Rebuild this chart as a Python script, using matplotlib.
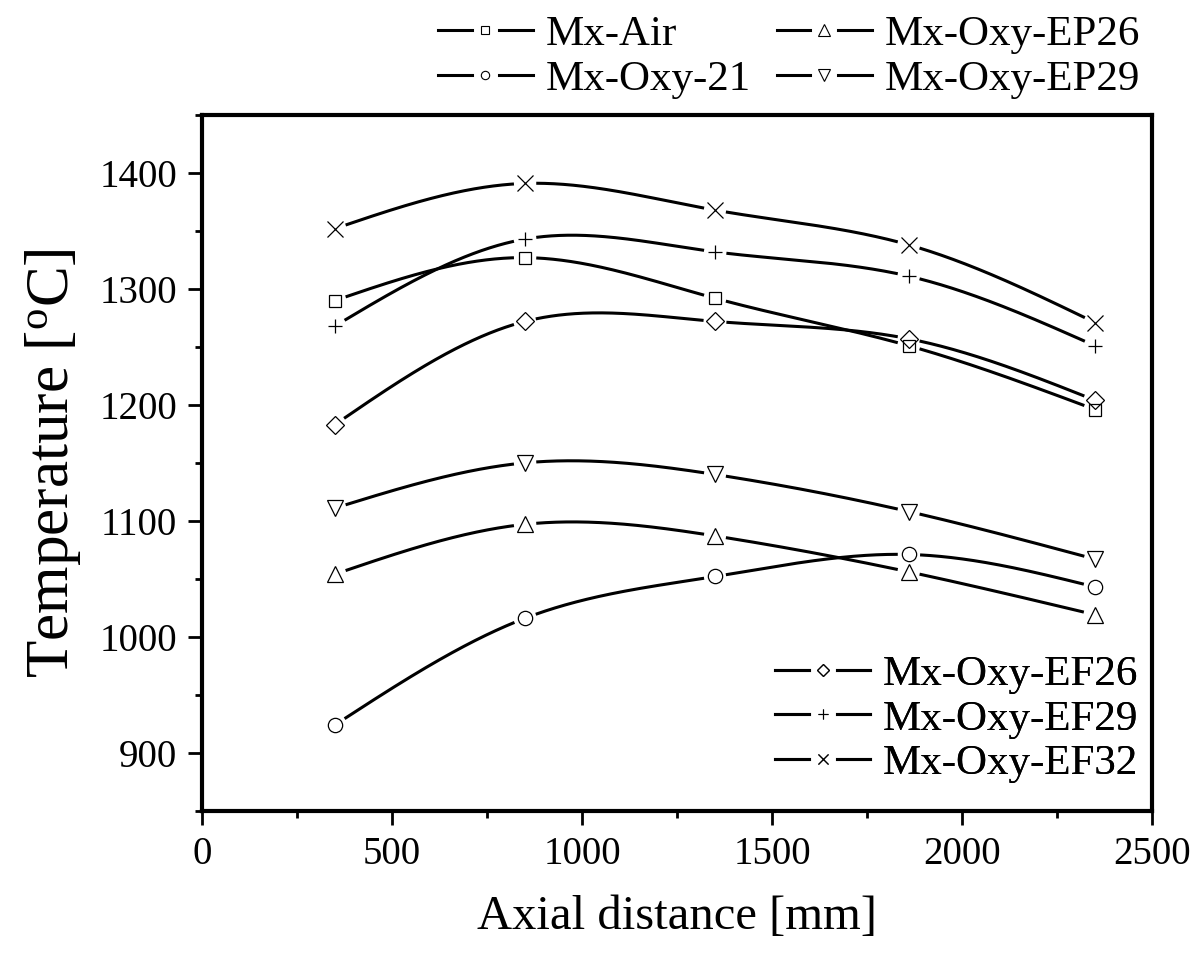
import numpy as np
import matplotlib
matplotlib.use("Agg")
import matplotlib.pyplot as plt
from matplotlib.lines import Line2D
from matplotlib.legend_handler import HandlerBase

plt.rcParams['font.family'] = ['Liberation Serif', 'DejaVu Serif']
plt.rcParams['mathtext.fontset'] = 'custom'
plt.rcParams['mathtext.rm'] = 'Liberation Serif'

# ---- data ----
x_mm = [350, 850, 1350, 1860, 2350]
mx_air = [1290, 1327, 1292, 1251, 1196]
mx_oxy_21 = [924, 1016, 1052, 1071, 1043]
mx_oxy_ep26 = [1054, 1097, 1087, 1056, 1019]
mx_oxy_ep29 = [1111, 1150, 1140, 1108, 1067]
mx_oxy_ef26 = [1183, 1272, 1272, 1257, 1204]
mx_oxy_ef29 = [1268, 1343, 1332, 1311, 1251]
mx_oxy_ef32 = [1352, 1391, 1368, 1338, 1271]

labels = ['Mx-Air', 'Mx-Oxy-21', 'Mx-Oxy-EP26', 'Mx-Oxy-EP29',
          'Mx-Oxy-EF26', 'Mx-Oxy-EF29', 'Mx-Oxy-EF32']
series = [mx_air, mx_oxy_21, mx_oxy_ep26, mx_oxy_ep29,
          mx_oxy_ef26, mx_oxy_ef29, mx_oxy_ef32]
markers = ['s', 'o', '^', 'v', 'D', '+', 'x']
msizes = [9, 10.3, 12, 12, 9.6, 10, 11.5]
leg_ms = [6, 6, 8, 8, 6.5, 7, 7]

xticks = [0, 500, 1000, 1500, 2000, 2500]
yticks = [900, 1000, 1100, 1200, 1300, 1400]


def natural_spline(x, y, xs):
    x = np.asarray(x, float); y = np.asarray(y, float)
    n = len(x); h = np.diff(x)
    A = np.zeros((n, n)); r = np.zeros(n)
    A[0, 0] = 1; A[-1, -1] = 1
    for i in range(1, n - 1):
        A[i, i - 1] = h[i - 1]; A[i, i] = 2 * (h[i - 1] + h[i]); A[i, i + 1] = h[i]
        r[i] = 6 * ((y[i + 1] - y[i]) / h[i] - (y[i] - y[i - 1]) / h[i - 1])
    M = np.linalg.solve(A, r)
    idx = np.clip(np.searchsorted(x, xs) - 1, 0, n - 2)
    x0 = x[idx]; x1 = x[idx + 1]; hh = x1 - x0
    return (M[idx] * (x1 - xs) ** 3 / (6 * hh) + M[idx + 1] * (xs - x0) ** 3 / (6 * hh)
            + (y[idx] / hh - M[idx] * hh / 6) * (x1 - xs)
            + (y[idx + 1] / hh - M[idx + 1] * hh / 6) * (xs - x0))


fig = plt.figure(figsize=(12, 9.6), dpi=100)
ax = fig.add_axes([0.1683, 0.1555, 0.7917, 0.7247])
ax.set_xlim(0, 2500)
ax.set_ylim(850, 1450)

gap_px = 11
lw = 2.2
for ys, mk, ms, lab in zip(series, markers, msizes, labels):
    xs = np.linspace(x_mm[0], x_mm[-1], 1500)
    yy = natural_spline(x_mm, ys, xs)
    disp = ax.transData.transform(np.column_stack([xs, yy]))
    pts = ax.transData.transform(np.column_stack([x_mm, ys]))
    mask = np.zeros(len(xs), bool)
    for p in pts:
        mask |= np.hypot(disp[:, 0] - p[0], disp[:, 1] - p[1]) < gap_px
    yplot = yy.copy(); yplot[mask] = np.nan
    ax.plot(xs, yplot, color='black', lw=lw, solid_capstyle='butt')
    ax.plot(x_mm, ys, linestyle='none', marker=mk, ms=ms, mfc='none',
            mec='black', mew=0.9)


class GapHandler(HandlerBase):
    def __init__(self, marker, ms):
        super().__init__()
        self.marker = marker; self.ms = ms

    def create_artists(self, legend, orig_handle, xdescent, ydescent,
                       width, height, fontsize, trans):
        y = height / 2 - ydescent
        x0 = -xdescent
        a = Line2D([x0, x0 + width * 0.355], [y, y], color='black', lw=lw)
        b = Line2D([x0 + width * 0.645, x0 + width], [y, y], color='black', lw=lw)
        m = Line2D([x0 + width / 2], [y], marker=self.marker, ms=self.ms,
                   mfc='none', mec='black', mew=0.8, linestyle='none')
        for art in (a, b, m):
            art.set_transform(trans)
        return [a, b, m]


dummies = [Line2D([], [], color='black') for _ in labels]
hmap = {d: GapHandler(mk, m) for d, mk, m in zip(dummies, markers, leg_ms)}

leg_kw = dict(frameon=False, fontsize=31, handlelength=2.2, handletextpad=0.3,
              borderpad=0, borderaxespad=0, labelspacing=0.12)
leg1 = fig.legend(dummies[:4], labels[:4], ncol=2, columnspacing=0.6,
                  loc='center', bbox_to_anchor=(789 / 1200, 1 - 57 / 960),
                  handler_map=hmap, **leg_kw)
leg2 = ax.legend(dummies[4:], labels[4:], loc='center',
                 bbox_to_anchor=(957 / 1200, 1 - 719 / 960),
                 bbox_transform=fig.transFigure, handler_map=hmap, **leg_kw)
ax.add_artist(leg2)

ax.set_xticks(xticks)
ax.set_yticks(yticks)
ax.set_xticks([250, 750, 1250, 1750, 2250], minor=True)
ax.set_yticks([850, 950, 1050, 1150, 1250, 1350, 1450], minor=True)
ax.tick_params(which='major', direction='out', length=10, width=2,
               labelsize=28, pad=8, top=False, right=False)
ax.tick_params(which='minor', direction='out', length=5, width=2,
               top=False, right=False)
ax.tick_params(axis='x', which='major', pad=8)
for s in ax.spines.values():
    s.set_linewidth(3)

ax.set_xlabel('Axial distance [mm]', fontsize=35, labelpad=16)
ax.set_ylabel(r'Temperature [$\mathregular{^{o}}$C]', fontsize=44, labelpad=12)

fig.savefig('out.png', dpi=100)
